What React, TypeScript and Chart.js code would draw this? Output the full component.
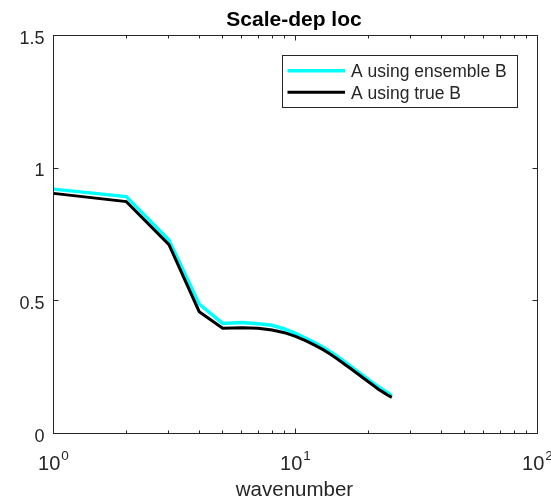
import React, { useEffect, useRef } from "react";
import { Chart, registerables } from "chart.js";

Chart.register(...registerables);

// ---- data ----
const wavenumbers = [1, 2, 3, 4, 5, 6, 7, 8, 9, 10, 11, 12, 13, 14, 15, 16, 17, 18, 19, 20, 21, 22, 23, 24, 25];
const ensembleB = [0.921, 0.893, 0.729, 0.488, 0.415, 0.418, 0.414, 0.408, 0.394, 0.377, 0.36, 0.343, 0.325, 0.307, 0.289, 0.27, 0.252, 0.235, 0.219, 0.204, 0.189, 0.176, 0.165, 0.155, 0.143];
const trueB = [0.905, 0.874, 0.712, 0.459, 0.397, 0.399, 0.397, 0.39, 0.38, 0.366, 0.35, 0.333, 0.316, 0.298, 0.279, 0.26, 0.243, 0.226, 0.21, 0.195, 0.181, 0.167, 0.156, 0.145, 0.136];
const seriesLabels = ["A using ensemble B", "A using true B"];
const seriesColors = ["#00FFFF", "#000000"];
const xMajorExponents = [0, 1, 2];
const xMinorTicks = [2, 3, 4, 5, 6, 7, 8, 9, 20, 30, 40, 50, 60, 70, 80, 90];
const yTicks = [0, 0.5, 1, 1.5];
const yTickLabels = ["0", "0.5", "1", "1.5"];
const titleText = "Scale-dep loc";
const xLabelText = "wavenumber";

const FONT = '"Liberation Sans", Arial, Helvetica, sans-serif';
const AXIS_COLOR = "#262626";

const matlabAxesPlugin = {
  id: "matlabAxes",
  afterDraw(chart: any) {
    const { ctx, chartArea } = chart;
    const xs = chart.scales.x;
    const ys = chart.scales.y;
    const { left, right, top, bottom } = chartArea;
    ctx.save();
    ctx.strokeStyle = AXIS_COLOR;
    ctx.fillStyle = AXIS_COLOR;
    ctx.lineWidth = 1;
    // box
    ctx.strokeRect(left, top, right - left, bottom - top);
    // x ticks
    const drawXTick = (v: number, len: number) => {
      const px = Math.round(xs.getPixelForValue(v) - 0.5) + 0.5;
      ctx.beginPath();
      ctx.moveTo(px, bottom);
      ctx.lineTo(px, bottom - len);
      ctx.moveTo(px, top);
      ctx.lineTo(px, top + len);
      ctx.stroke();
    };
    xMajorExponents.forEach((e) => drawXTick(Math.pow(10, e), 5));
    xMinorTicks.forEach((v) => drawXTick(v, 3));
    // y ticks
    yTicks.forEach((v) => {
      const py = Math.round(ys.getPixelForValue(v) - 0.5) + 0.5;
      ctx.beginPath();
      ctx.moveTo(left, py);
      ctx.lineTo(left + 5, py);
      ctx.moveTo(right, py);
      ctx.lineTo(right - 5, py);
      ctx.stroke();
    });
    // y tick labels
    ctx.font = `18px ${FONT}`;
    ctx.textAlign = "right";
    ctx.textBaseline = "alphabetic";
    yTicks.forEach((v, i) => {
      const py = ys.getPixelForValue(v);
      ctx.fillText(yTickLabels[i], left - 9, py + 8.3);
    });
    // x tick labels with superscript
    xMajorExponents.forEach((e) => {
      const px = xs.getPixelForValue(Math.pow(10, e));
      ctx.font = `20px ${FONT}`;
      const baseW = ctx.measureText("10").width;
      ctx.font = `13.5px ${FONT}`;
      const expW = ctx.measureText(String(e)).width;
      const total = baseW + 1 + expW;
      const x0 = px - total / 2;
      ctx.textAlign = "left";
      ctx.font = `20px ${FONT}`;
      ctx.fillText("10", x0, bottom + 36.2);
      ctx.font = `13.5px ${FONT}`;
      ctx.fillText(String(e), x0 + baseW + 1, bottom + 26.8);
    });
    // x label
    ctx.font = `20.5px ${FONT}`;
    ctx.textAlign = "center";
    ctx.fillText(xLabelText, (left + right) / 2 - 1, 496);
    // title
    ctx.fillStyle = "#000000";
    ctx.font = `bold 21px ${FONT}`;
    ctx.fillText(titleText, (left + right) / 2 - 1.5, 26);
    // legend
    const lx = 282.5, ly = 55.5, lw = 235, lh = 52;
    ctx.fillStyle = "#ffffff";
    ctx.fillRect(lx, ly, lw, lh);
    ctx.strokeStyle = AXIS_COLOR;
    ctx.lineWidth = 1;
    ctx.strokeRect(lx, ly, lw, lh);
    const rowsY = [70.7, 92.3];
    const rowsBase = [77, 98.7];
    const widths = [3.5, 3];
    seriesLabels.forEach((lab, i) => {
      ctx.strokeStyle = seriesColors[i];
      ctx.lineWidth = widths[i];
      ctx.beginPath();
      ctx.moveTo(287.5, rowsY[i]);
      ctx.lineTo(345, rowsY[i]);
      ctx.stroke();
      ctx.fillStyle = AXIS_COLOR;
      ctx.font = `17.5px ${FONT}`;
      ctx.textAlign = "left";
      ctx.fillText(lab, 351, rowsBase[i]);
    });
    ctx.restore();
  },
};

export default function App() {
  const canvasRef = useRef<HTMLCanvasElement | null>(null);

  useEffect(() => {
    document.body.style.margin = "0";
    const canvas = canvasRef.current;
    if (!canvas) return;
    const chart = new Chart(canvas, {
      type: "line",
      data: {
        datasets: [
          {
            label: seriesLabels[0],
            data: wavenumbers.map((x, i) => ({ x, y: ensembleB[i] })),
            borderColor: seriesColors[0],
            backgroundColor: seriesColors[0],
            borderWidth: 3.5,
            pointRadius: 0,
            tension: 0,
            fill: false,
            order: 2,
          },
          {
            label: seriesLabels[1],
            data: wavenumbers.map((x, i) => ({ x, y: trueB[i] })),
            borderColor: seriesColors[1],
            backgroundColor: seriesColors[1],
            borderWidth: 3,
            pointRadius: 0,
            tension: 0,
            fill: false,
            order: 1,
          },
        ],
      },
      options: {
        responsive: false,
        animation: false,
        devicePixelRatio: 1,
        layout: { padding: { left: 53.5, top: 35.5, right: 13.5, bottom: 66.5 } },
        plugins: {
          legend: { display: false },
          title: { display: false },
          tooltip: { enabled: false },
        },
        scales: {
          x: { type: "logarithmic", min: 1, max: 100, display: false },
          y: { type: "linear", min: 0, max: 1.5, display: false },
        },
      },
      plugins: [matlabAxesPlugin],
    });
    return () => chart.destroy();
  }, []);

  return (
    <div style={{ position: "absolute", left: 0, top: 0, width: 551, height: 500, background: "#fff" }}>
      <canvas ref={canvasRef} width={551} height={500} style={{ width: 551, height: 500 }} />
    </div>
  );
}
